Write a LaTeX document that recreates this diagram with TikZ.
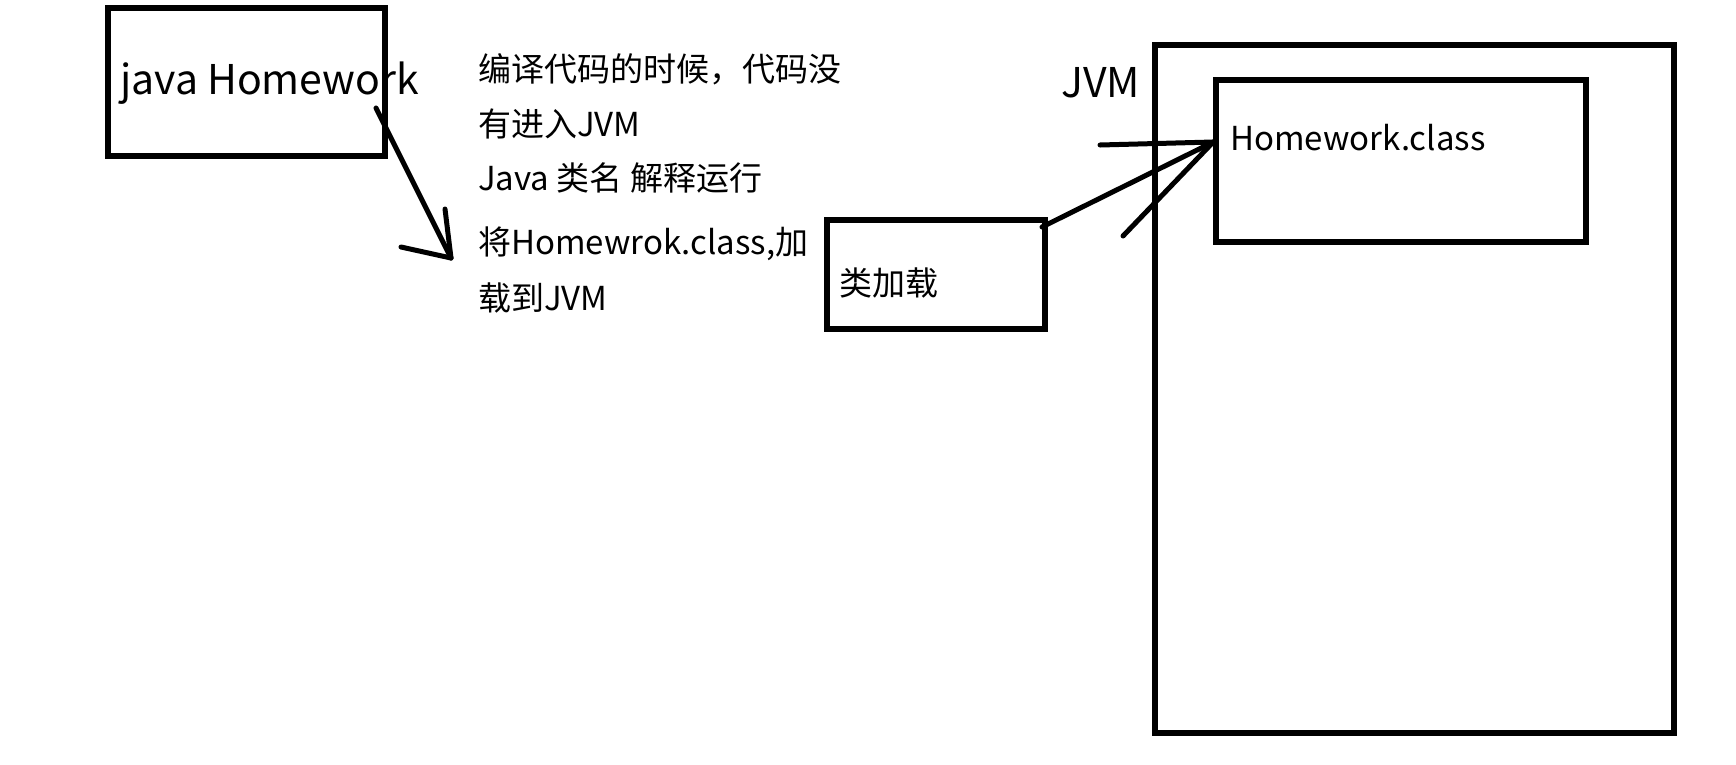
\documentclass[tikz,border=0pt]{standalone}
\usepackage{fontspec}
\setmainfont{Noto Sans CJK SC}

\begin{document}
\begin{tikzpicture}[x=1pt, y=-1pt,
    box/.style={draw, line width=5.5pt, inner sep=0pt},
    stroke/.style={line width=5pt, line cap=round},
    txt/.style={anchor=west, inner sep=0pt, font=\fontsize{33}{40}\selectfont},
    bigtxt/.style={anchor=west, inner sep=0pt, font=\fontsize{41}{48}\selectfont}]
  \useasboundingbox (0,0) rectangle (1736,764);

  % source file
  \node[box, minimum width=277pt, minimum height=148pt] (javabox) at (246.5,82) {};
  \node[bigtxt] (javatxt) at (120,83) {java Homework};

  % notes
  \node[txt] (note1) at (478,69) {编译代码的时候，代码没};
  \node[txt] (note2) at (478,124) {有进入JVM};
  \node[txt] (note3) at (478,178) {Java 类名 解释运行};
  \node[txt] (note4) at (478,244) {将Homewrok.class,加};
  \node[txt] (note5) at (478,298) {载到JVM};

  % class loader
  \node[box, minimum width=218pt, minimum height=109pt] (loader) at (936,274.5) {};
  \node[txt] (loadtxt) at (839,283) {类加载};

  % jvm
  \node[box, minimum width=519pt, minimum height=688pt] (jvm) at (1414.5,389) {};
  \node[bigtxt] (jvmtxt) at (1061,83) {JVM};
  \node[box, minimum width=370pt, minimum height=162pt] (classbox) at (1401,161) {};
  \node[txt] (classtxt) at (1230,138) {Homework.class};

  % arrows, drawn by hand
  \coordinate (a1s) at (376,108);
  \coordinate (a1e) at (451,258);
  \draw[stroke] (a1s) -- (a1e);
  \draw[stroke] (a1e) -- (445,209);
  \draw[stroke] (a1e) -- (401,247);

  \coordinate (a2s) at (1042,227);
  \coordinate (a2e) at (classbox.west |- 0,142);
  \draw[stroke] (a2s) -- (a2e);
  \draw[stroke] (a2e) -- (1100,145);
  \draw[stroke] (a2e) -- (1123,236);
\end{tikzpicture}
\end{document}
